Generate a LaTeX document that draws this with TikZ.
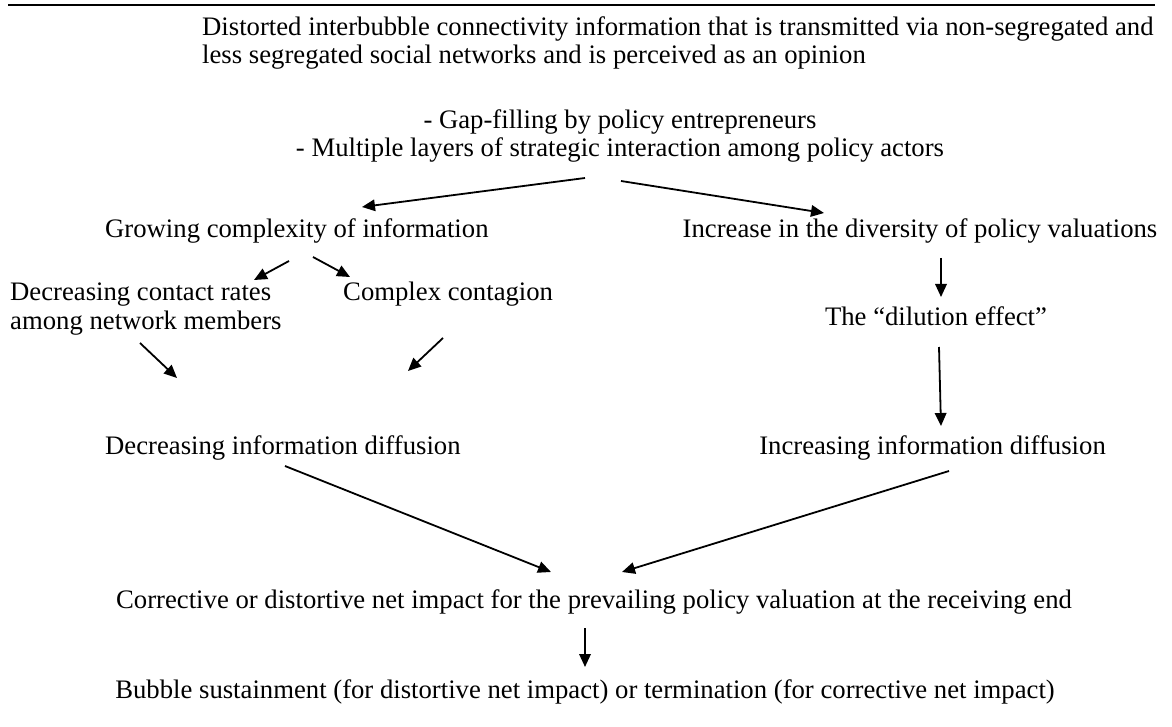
\documentclass[tikz,border=0pt]{standalone}
\usepackage{fontspec}
\setmainfont{Liberation Serif}[Ligatures={TeX,NoCommon}]
\usetikzlibrary{arrows.meta}
\begin{document}
\begin{tikzpicture}[x=1pt,y=-1pt,
  txt/.style={inner sep=0pt, font=\fontsize{26.7}{28}\selectfont},
  arr/.style={line width=1.8pt, -{Triangle[length=13pt,width=11.5pt]}},
  rulestyle/.style={line width=1.2pt}]
\useasboundingbox (0,0) rectangle (1172,727);
% top rule
\coordinate (r1) at (8,5);
\coordinate (r2) at (1155,5);
\draw[rulestyle] (r1) -- (r2);
% texts
\node[txt,anchor=base west] (d1) at (202,36) {Distorted interbubble connectivity information that is transmitted via non-segregated and};
\node[txt,anchor=base west] (d2) at (202,64) {less segregated social networks and is perceived as an opinion};
\node[txt,anchor=base] (g1) at (620,129) {- Gap-filling by policy entrepreneurs};
\node[txt,anchor=base] (g2) at (620,157) {- Multiple layers of strategic interaction among policy actors};
\node[txt,anchor=base west] (gc) at (105,238) {Growing complexity of information};
\node[txt,anchor=base] (inc) at (920,238) {Increase in the diversity of policy valuations};
\node[txt,anchor=base west] (dc1) at (10,301) {Decreasing contact rates};
\node[txt,anchor=base west] (dc2) at (10,329) {among network members};
\node[txt,anchor=base west] (cc) at (343,301) {Complex contagion};
\node[txt,anchor=base] (dil) at (936,325) {The “dilution effect”};
\node[txt,anchor=base west] (did) at (105,454) {Decreasing information diffusion};
\node[txt,anchor=base east] (iid) at (1106,454) {Increasing information diffusion};
\node[txt,anchor=base] (cor) at (594,608) {Corrective or distortive net impact for the prevailing policy valuation at the receiving end};
\node[txt,anchor=base] (bub) at (585,698) {Bubble sustainment (for distortive net impact) or termination (for corrective net impact)};
% arrow end points
\coordinate (a1s) at (585,178); \coordinate (a1e) at (362,207);
\coordinate (a2s) at (621,181); \coordinate (a2e) at (824,213);
\coordinate (a3s) at (289,261); \coordinate (a3e) at (254,280);
\coordinate (a4s) at (313,257); \coordinate (a4e) at (350,277);
\coordinate (a5s) at (140,343); \coordinate (a5e) at (177,378);
\coordinate (a6s) at (443,338); \coordinate (a6e) at (408,371);
\coordinate (a7s) at (941,258); \coordinate (a7e) at (941,297);
\coordinate (a8s) at (939,347); \coordinate (a8e) at (941,426);
\coordinate (a9s) at (285,466); \coordinate (a9e) at (551,572);
\coordinate (a10s) at (949,471); \coordinate (a10e) at (622,572);
\coordinate (a11s) at (585,628); \coordinate (a11e) at (585,667);
\foreach \i in {1,...,11} {\draw[arr] (a\i s) -- (a\i e);}
\end{tikzpicture}
\end{document}
